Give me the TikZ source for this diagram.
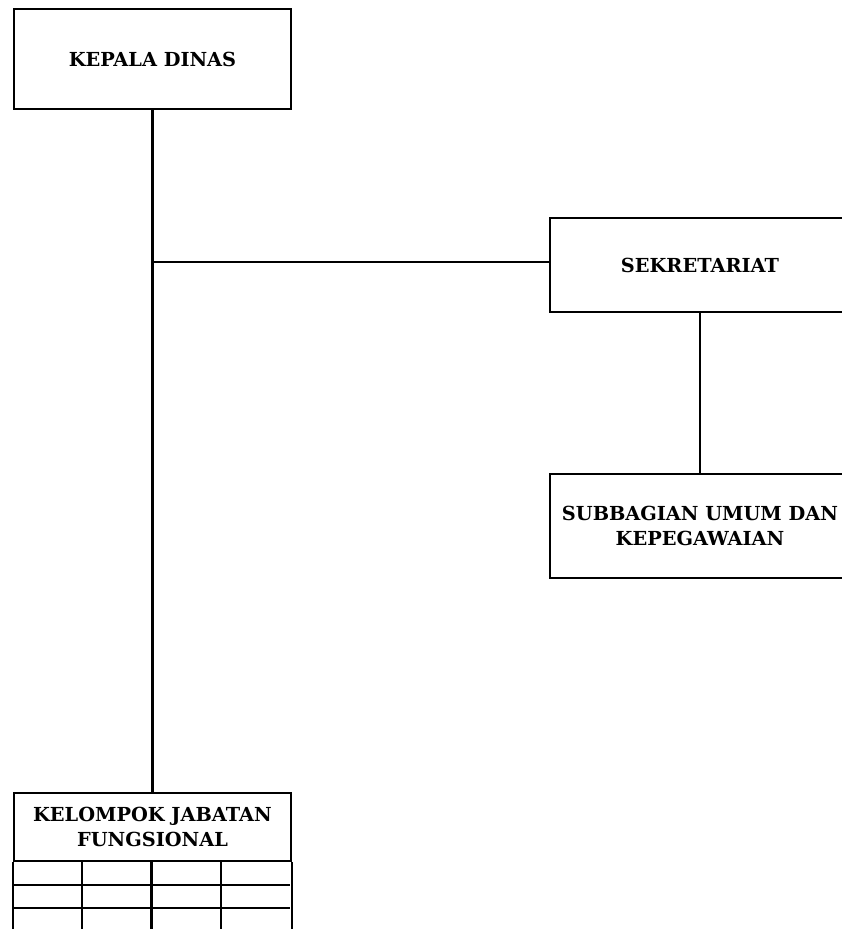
\documentclass[tikz,border=0pt]{standalone}
\usepackage{fontspec}
\setmainfont{DejaVu Serif}
\usepackage{tikz}
\usepackage{xcolor}

\begin{document}
\begin{tikzpicture}[
        unitbox/.style={draw, line width=1.2pt, align=center, inner sep=0pt,
            font=\fontsize{11}{14}\selectfont\bfseries},
        link/.style={line width=1.2pt}
    ]
            \useasboundingbox (0,0) rectangle (16.82,-18.58);

            % Head of office
            \node[unitbox, minimum width=5.54cm, minimum height=2cm]
                (kepala) at (3.05,-1.18) {KEPALA DINAS};

            % Secretariat and its subsection (boxes run past the right edge)
            \node[unitbox, minimum width=6cm, minimum height=1.88cm]
                (sek) at (14,-5.30) {SEKRETARIAT};
            \node[unitbox, minimum width=6cm, minimum height=2.08cm]
                (sub) at (14,-10.52) {SUBBAGIAN UMUM DAN\\KEPEGAWAIAN};

            % Functional group with its table
            \node[unitbox, minimum width=5.54cm, minimum height=1.36cm]
                (kjf) at (3.05,-16.54) {KELOMPOK JABATAN\\FUNGSIONAL};

            % Lines
            \coordinate (branch) at (3.05,-5.24);
            \draw[link] (kepala.south) -- (kjf.north);
            \draw[link] (branch) -- (branch -| sek.west);
            \draw[link] (sek.south) -- (sub.north);

            % Table under the functional group
            \draw[link] (kjf.south west) -- ++(0,-2);
            \draw[link] (kjf.south east) -- ++(0,-2);
            \foreach \x in {1,2,3}
                \draw[link] (kjf.south west) ++(\x*1.385,0) -- ++(0,-2);
            \foreach \y in {0.46,0.92}
                \draw[link] (kjf.south west) ++(0,-\y) -- ++(5.54,0);
        \end{tikzpicture}
\end{document}
